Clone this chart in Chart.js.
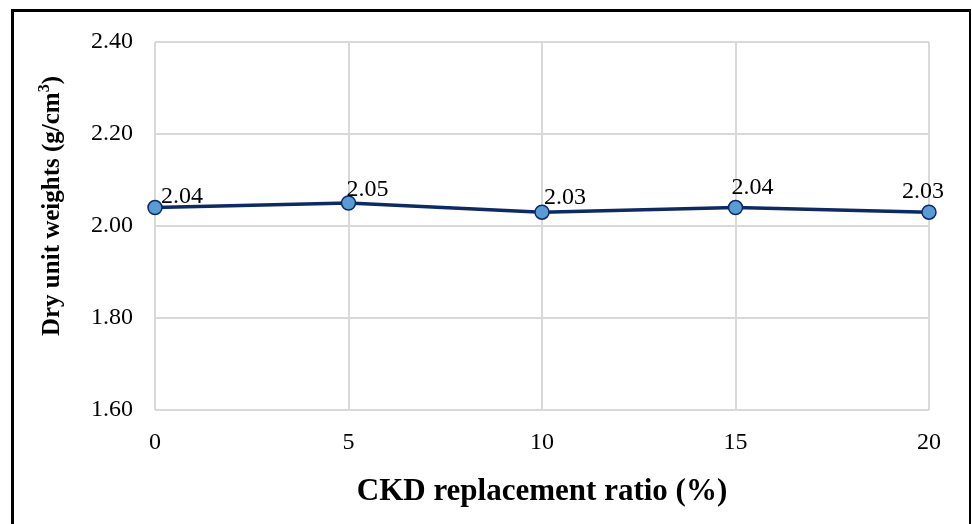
<!DOCTYPE html>
<html>
<head>
<meta charset="utf-8">
<script src="https://cdn.jsdelivr.net/npm/chart.js@4/dist/chart.umd.min.js"></script>
<style>
  html, body { margin: 0; padding: 0; background: #fff; overflow: hidden; }
  #wrap { position: relative; width: 972px; height: 524px; }
  #frame {
    position: absolute; left: 11px; top: 9px; width: 955px; height: 600px;
    border-left: 3px solid #000; border-top: 3px solid #000; border-right: 2px solid #000;
    pointer-events: none;
  }
  canvas { position: absolute; left: 0; top: 0; }
</style>
</head>
<body>
<div id="wrap">
  <canvas id="c" width="972" height="524"></canvas>
  <div id="frame"></div>
</div>
<script>
// CKD replacement ratio (%) and measured dry unit weight (g/cm³)
const ckdRatio = [0, 5, 10, 15, 20];
const dryUnitWeight = [2.04, 2.05, 2.03, 2.04, 2.03];
const xTicks = [0, 5, 10, 15, 20];
const yTicks = [1.60, 1.80, 2.00, 2.20, 2.40];

const FONT = "'Liberation Serif', 'Times New Roman', serif";
const NAVY = '#0c2a67';

// Value labels next to each marker, nudged so they sit clear of the line
const valueLabels = {
  id: 'valueLabels',
  afterDatasetsDraw(chart, args, opts) {
    const ctx = chart.ctx;
    const meta = chart.getDatasetMeta(0);
    ctx.save();
    ctx.font = '24px ' + FONT;
    ctx.fillStyle = '#000';
    ctx.textAlign = 'left';
    ctx.textBaseline = 'alphabetic';
    meta.data.forEach((pt, i) => {
      const v = chart.data.datasets[0].data[i].y;
      const n = opts.nudge[i];
      ctx.fillText(v.toFixed(2), pt.x + n[0], pt.y + n[1]);
    });
    ctx.restore();
  }
};

// Vertical axis title with a true superscript for the cubic unit
const yAxisTitle = {
  id: 'yAxisTitle',
  afterDraw(chart, args, opts) {
    const ctx = chart.ctx;
    const main = 'bold 25px ' + FONT;
    const sup = 'bold 16px ' + FONT;
    const parts = [['Dry unit weights (g/cm', main, 0], ['3', sup, -10], [')', main, 0]];
    ctx.save();
    let total = 0;
    parts.forEach(p => { ctx.font = p[1]; total += ctx.measureText(p[0]).width; });
    ctx.translate(opts.x, opts.y);
    ctx.rotate(-Math.PI / 2);
    ctx.fillStyle = '#000';
    ctx.textBaseline = 'alphabetic';
    ctx.textAlign = 'left';
    let cx = -total / 2;
    parts.forEach(p => {
      ctx.font = p[1];
      ctx.fillText(p[0], cx, p[2]);
      cx += ctx.measureText(p[0]).width;
    });
    ctx.restore();
  }
};

new Chart(document.getElementById('c'), {
  type: 'line',
  data: {
    datasets: [{
      data: ckdRatio.map((x, i) => ({ x, y: dryUnitWeight[i] })),
      borderColor: NAVY,
      borderWidth: 3.5,
      backgroundColor: '#5b9bd5',
      pointBackgroundColor: '#5b9bd5',
      pointBorderColor: NAVY,
      pointBorderWidth: 1.5,
      pointRadius: 7,
      tension: 0,
      clip: false
    }]
  },
  options: {
    responsive: false,
    animation: false,
    events: [],
    layout: { padding: { left: 0, right: 43, top: 42, bottom: 0 } },
    plugins: {
      legend: { display: false },
      tooltip: { enabled: false },
      valueLabels: { nudge: [[6, -5], [-2, -7], [2, -8], [-4, -14], [-27, -14]] },
      yAxisTitle: { x: 59, y: 206 }
    },
    scales: {
      x: {
        type: 'linear',
        min: 0, max: 20,
        afterBuildTicks(s) { s.ticks = xTicks.map(v => ({ value: v })); },
        afterFit(s) { s.height = 114; },
        grid: { color: '#d9d9d9', lineWidth: 2, drawTicks: false },
        border: { display: false },
        ticks: { color: '#000', font: { family: FONT, size: 24 }, padding: 18 },
        title: {
          display: true,
          text: 'CKD replacement ratio (%)',
          color: '#000',
          font: { family: FONT, size: 31, weight: 'bold' },
          padding: { top: 0, bottom: 13 }
        }
      },
      y: {
        min: 1.6, max: 2.4,
        afterBuildTicks(s) { s.ticks = yTicks.map(v => ({ value: v })); },
        afterFit(s) { s.width = 155; },
        grid: { color: '#d9d9d9', lineWidth: 2, drawTicks: false },
        border: { display: false },
        ticks: {
          color: '#000', font: { family: FONT, size: 24 }, padding: 22,
          callback: v => Number(v).toFixed(2)
        }
      }
    }
  },
  plugins: [valueLabels, yAxisTitle]
});
</script>
</body>
</html>
